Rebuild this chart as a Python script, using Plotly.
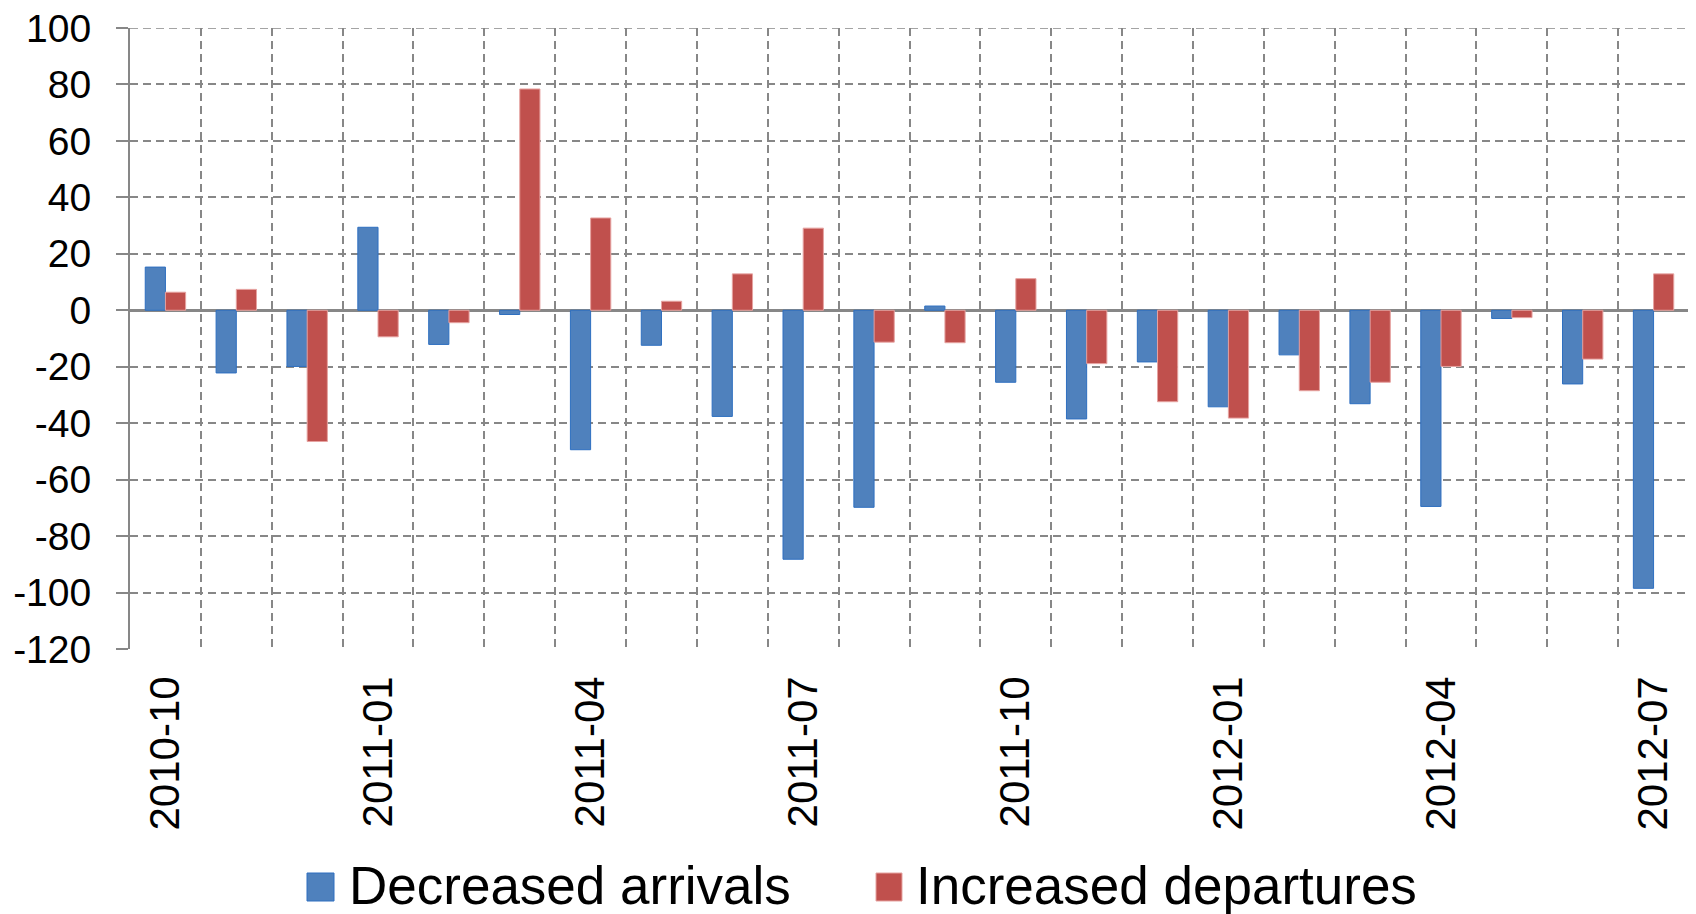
import plotly.graph_objects as go

months = ["2010-10", "2010-11", "2010-12",
          "2011-01", "2011-02", "2011-03", "2011-04", "2011-05", "2011-06",
          "2011-07", "2011-08", "2011-09", "2011-10", "2011-11", "2011-12",
          "2012-01", "2012-02", "2012-03", "2012-04", "2012-05", "2012-06", "2012-07"]
arrivals = [15.3, -22.2, -19.9, 29.4, -12.1, -1.5, -49.4, -12.4, -37.6, -88.2, -69.8,
            1.5, -25.5, -38.5, -18.3, -34.2, -15.8, -33.1, -69.5, -2.9, -26.1, -98.5]
departures = [6.4, 7.4, -46.5, -9.4, -4.4, 78.4, 32.7, 3.2, 12.9, 29.1, -11.3,
              -11.5, 11.2, -18.9, -32.4, -38.2, -28.5, -25.5, -19.9, -2.6, -17.3, 12.9]
tick_labels = ["2010-10", "2011-01", "2011-04", "2011-07", "2011-10", "2012-01", "2012-04", "2012-07"]
y_ticks = [-120, -100, -80, -60, -40, -20, 0, 20, 40, 60, 80, 100]
series_names = ["Decreased arrivals", "Increased departures"]

# page offset caused by default body margin (8px)
OFF = 8
W, H = 1696 - OFF, 914 - OFF
L, R, T, B = 130 - OFF, 7, 28 - OFF, 265
BLUE, BLUE_EDGE = "#4F81BD", "#2E6FC0"
RED, RED_EDGE = "#C0504D", "#E6A3A1"
GRID = "#878787"
FONT = "Liberation Sans, Arial, sans-serif"

fig = go.Figure()
fig.add_trace(go.Bar(x=months, y=arrivals, name=series_names[0], marker=dict(color=BLUE, line=dict(color=BLUE_EDGE, width=1)), showlegend=False))
fig.add_trace(go.Bar(x=months, y=departures, name=series_names[1], marker=dict(color=RED, line=dict(color=RED_EDGE, width=1)), showlegend=False))

fig.update_layout(
    width=W, height=H,
    margin=dict(l=L, r=R, t=T, b=B, autoexpand=False),
    paper_bgcolor="white", plot_bgcolor="white",
    barmode="group", bargap=0.43, bargroupgap=0,
    font=dict(family=FONT, color="black"),
    showlegend=False,
)
fig.update_yaxes(
    range=[-120, 100], tickmode="array", tickvals=y_ticks,
    ticktext=[str(v) for v in y_ticks],
    showgrid=True, gridcolor=GRID, gridwidth=1.7, griddash="8px,5px",
    zeroline=True, zerolinecolor=GRID, zerolinewidth=2.5,
    showline=True, linecolor=GRID, linewidth=2,
    ticks="outside", ticklen=12, tickcolor=GRID, tickwidth=1.7,
    ticklabelstandoff=17, ticklabeloverflow="allow",
    tickfont=dict(size=39, family=FONT, color="black"),
)
fig.update_xaxes(
    type="category", range=[-0.5, len(months) - 0.5],
    tickmode="array", tickvals=months,
    ticktext=[m if m in tick_labels else "" for m in months],
    tickson="boundaries", tickangle=-90,
    showgrid=True, gridcolor=GRID, gridwidth=1.7, griddash="8px,5px",
    showline=False, ticks="",
    ticklabelstandoff=18,
    tickfont=dict(size=42, family=FONT, color="black"),
)

# top and right-edge dashed boundaries
fig.add_shape(type="line", xref="paper", yref="paper", x0=1, x1=1, y0=0, y1=1,
              line=dict(color=GRID, width=1.7, dash="8px,5px"))
fig.add_shape(type="line", xref="paper", yref="y", x0=0, x1=1, y0=y_ticks[-1], y1=y_ticks[-1],
              line=dict(color=GRID, width=1.7, dash="8px,5px"))

# manual legend (large squares like the reference); coordinates in page pixels
pw, ph = W - L - R, H - T - B
def px_x(x):
    return (x - OFF - L) / pw
def px_y(y):
    return (H - B - (y - OFF)) / ph

legend_items = [(series_names[0], BLUE, BLUE_EDGE, 307, 334, 347),
                (series_names[1], RED, RED_EDGE, 876, 902, 914)]
for name, col, edge, x0, x1, tx in legend_items:
    fig.add_shape(type="rect", xref="paper", yref="paper",
                  x0=px_x(x0), x1=px_x(x1), y0=px_y(901), y1=px_y(873),
                  fillcolor=col, line=dict(color=edge, width=1))
    fig.add_annotation(xref="paper", yref="paper", x=px_x(tx), y=px_y(885),
                       xanchor="left", yanchor="middle", showarrow=False,
                       text=name, font=dict(size=53, family=FONT, color="black"))

fig.write_html("out.html")
